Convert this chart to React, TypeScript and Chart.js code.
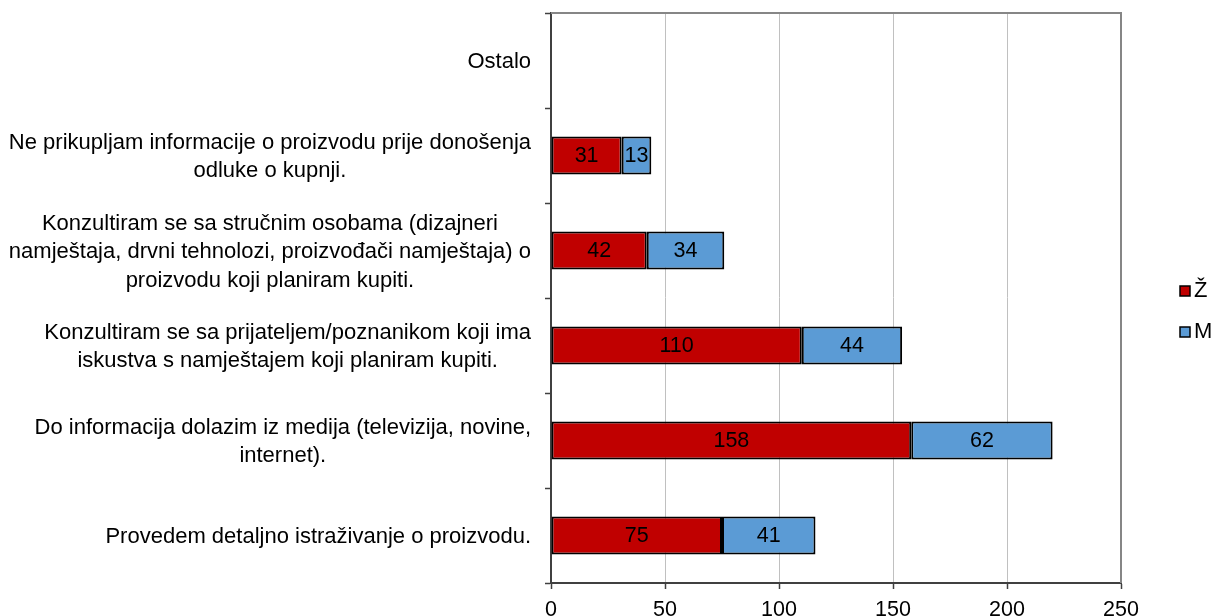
import React, { useEffect, useRef } from 'react';
import { Chart, registerables } from 'chart.js';
Chart.register(...registerables);

const FONT = "'Liberation Sans', Arial, sans-serif";

const categories: string[][] = [
  ['Ostalo'],
  ['Ne prikupljam informacije o proizvodu prije donošenja', 'odluke o kupnji.'],
  [
    'Konzultiram se sa stručnim osobama (dizajneri',
    'namještaja, drvni tehnolozi, proizvođači namještaja) o',
    'proizvodu koji planiram kupiti.',
  ],
  ['Konzultiram se sa prijateljem/poznanikom koji ima', 'iskustva s namještajem koji planiram kupiti.'],
  ['Do informacija dolazim iz medija (televizija, novine,', 'internet).'],
  ['Provedem detaljno istraživanje o proizvodu.'],
];
const zValues: (number | null)[] = [null, 31, 42, 110, 158, 75];
const mValues: (number | null)[] = [null, 13, 34, 44, 62, 41];
const seriesNames = ['Ž', 'M'];
const seriesColors = ['#C00000', '#5B9BD5'];
const xMin = 0;
const xMax = 250;
const xStep = 50;

const customDraw = {
  id: 'customDraw',
  afterDatasetsDraw(chart: any) {
    const ctx = chart.ctx;
    ctx.save();
    ctx.font = `21.5px ${FONT}`;
    ctx.fillStyle = '#000';
    ctx.textAlign = 'center';
    ctx.textBaseline = 'middle';
    chart.data.datasets.forEach((ds: any, di: number) => {
      const meta = chart.getDatasetMeta(di);
      meta.data.forEach((el: any, i: number) => {
        const v = ds.data[i];
        if (v === null || v === undefined || v === 0) return;
        const p = el.getCenterPoint();
        ctx.fillText(String(v), p.x, p.y + 1);
      });
    });
    ctx.restore();
  },
  afterDraw(chart: any) {
    const ctx = chart.ctx;
    const area = chart.chartArea;
    ctx.save();
    // plot area border top & right
    ctx.strokeStyle = '#868686';
    ctx.lineWidth = 2;
    ctx.beginPath();
    ctx.moveTo(area.left, area.top);
    ctx.lineTo(area.right, area.top);
    ctx.lineTo(area.right, area.bottom);
    ctx.stroke();

    // category labels
    const yScale = chart.scales.y;
    ctx.font = `22px ${FONT}`;
    ctx.fillStyle = '#000';
    ctx.textAlign = 'center';
    ctx.textBaseline = 'middle';
    const lh = 28.5;
    const rightEdge = area.left - 20;
    (chart.data.labels as string[][]).forEach((lines, i) => {
      const py = yScale.getPixelForTick(i);
      const widest = Math.max(...lines.map((l) => ctx.measureText(l).width));
      const cx = rightEdge - widest / 2;
      const y0 = py - ((lines.length - 1) * lh) / 2;
      lines.forEach((l, k) => ctx.fillText(l, cx, y0 + k * lh + 1.5));
    });

    // legend
    ctx.textAlign = 'left';
    ctx.textBaseline = 'alphabetic';
    chart.data.datasets.forEach((ds: any, di: number) => {
      const bx = 1180;
      const by = 286 + di * 41;
      ctx.fillStyle = ds.backgroundColor;
      ctx.fillRect(bx, by, 10, 10);
      ctx.strokeStyle = '#000';
      ctx.lineWidth = 1.5;
      ctx.strokeRect(bx, by, 10, 10);
      ctx.fillStyle = '#000';
      ctx.fillText(ds.label, bx + 14, by + 11);
    });
    ctx.restore();
  },
};

export default function App() {
  const ref = useRef<HTMLCanvasElement | null>(null);
  useEffect(() => {
    if (!ref.current) return;
    const chart = new Chart(ref.current, {
      type: 'bar',
      data: {
        labels: categories as any,
        datasets: [
          {
            label: seriesNames[0],
            data: zValues,
            backgroundColor: seriesColors[0],
            borderColor: '#000',
            borderWidth: 2,
            borderSkipped: false,
            barPercentage: 0.4,
            categoryPercentage: 1,
          },
          {
            label: seriesNames[1],
            data: mValues,
            backgroundColor: seriesColors[1],
            borderColor: '#000',
            borderWidth: 2,
            borderSkipped: false,
            barPercentage: 0.4,
            categoryPercentage: 1,
          },
        ],
      },
      options: {
        indexAxis: 'y',
        animation: false,
        responsive: true,
        maintainAspectRatio: false,
        layout: { padding: { top: 13, right: 94, left: 0, bottom: 0 } },
        plugins: { legend: { display: false }, tooltip: { enabled: false } },
        scales: {
          x: {
            stacked: true,
            min: xMin,
            max: xMax,
            ticks: {
              stepSize: xStep,
              color: '#000',
              font: { family: FONT, size: 21.5 },
              padding: 8,
            },
            grid: {
              color: '#c0c0c0',
              lineWidth: 1,
              drawTicks: true,
              tickLength: 6,
              tickColor: '#404040',
              tickWidth: 1.5,
            },
            border: { display: true, color: '#404040', width: 2 },
            afterFit: (s: any) => {
              s.height = 33;
            },
          },
          y: {
            stacked: true,
            ticks: { display: false },
            grid: {
              offset: true,
              drawOnChartArea: false,
              drawTicks: true,
              tickLength: 6,
              tickColor: '#404040',
              tickWidth: 1.5,
            },
            border: { display: true, color: '#404040', width: 2 },
            afterFit: (s: any) => {
              s.width = 551;
            },
          },
        },
      },
      plugins: [customDraw],
    });
    return () => chart.destroy();
  }, []);
  return (
    <div style={{ position: 'absolute', left: 0, top: 0, width: 1215, height: 616 }}>
      <canvas ref={ref} />
    </div>
  );
}
